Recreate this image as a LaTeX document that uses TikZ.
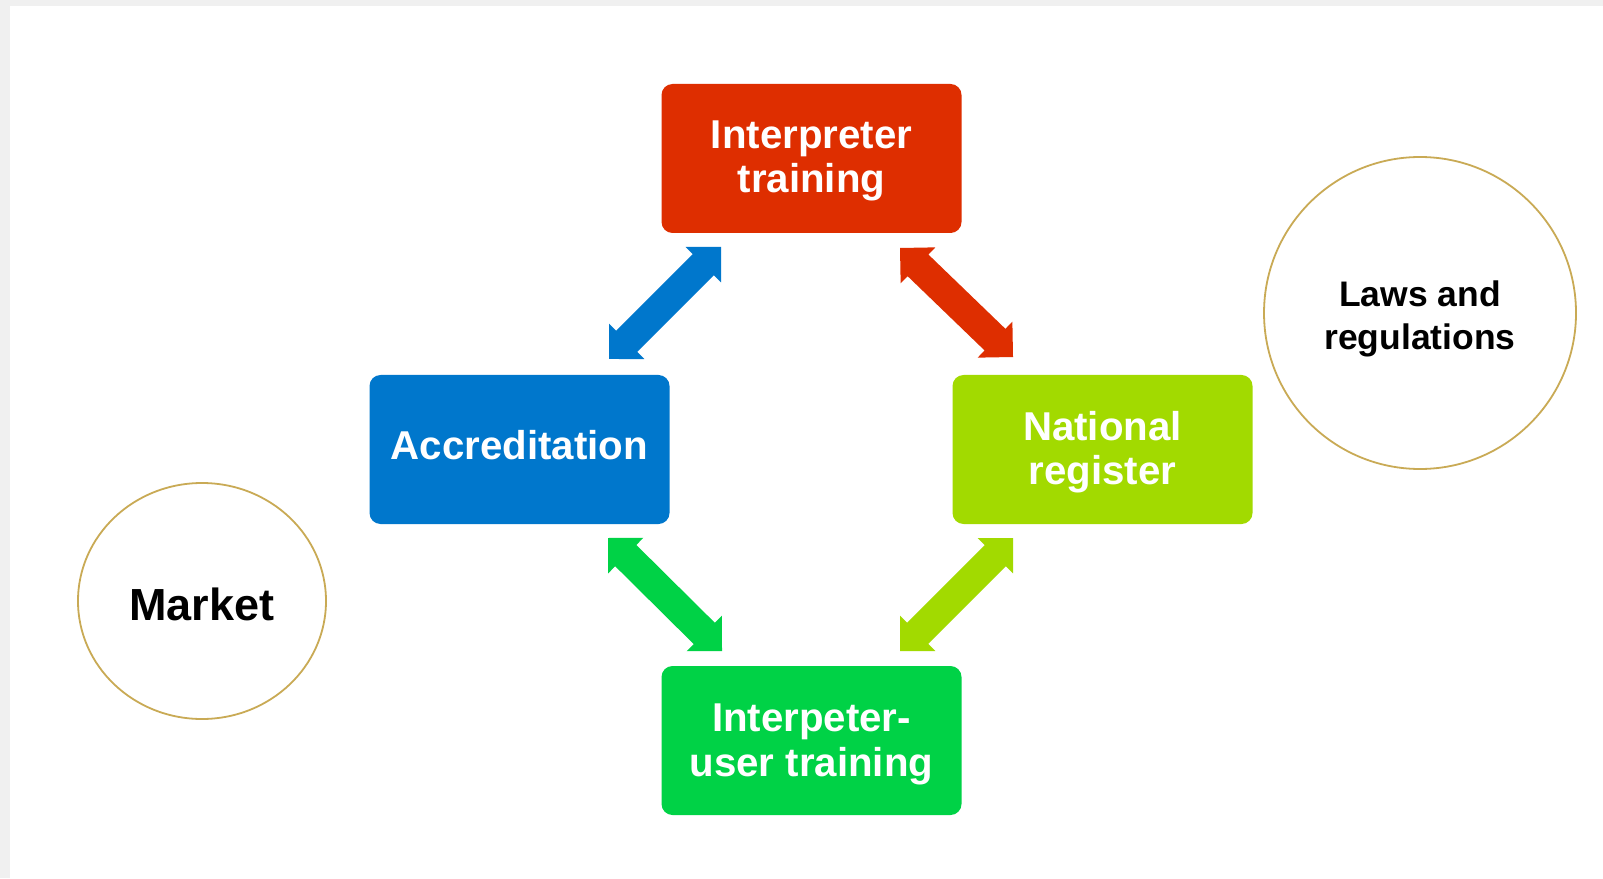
\documentclass[tikz,border=0pt]{standalone}
\usepackage{fontspec}
\setmainfont{Liberation Sans}
\usetikzlibrary{calc,shapes.geometric}
\definecolor{bgGray}{HTML}{F0F0F0}
\definecolor{boxRed}{HTML}{DE2E00}
\definecolor{boxBlue}{HTML}{0077CC}
\definecolor{boxLime}{HTML}{A2DA00}
\definecolor{boxGreen}{HTML}{00D246}
\definecolor{ringGold}{HTML}{C9AA55}
\newcommand\dblarr[3]{%
  \fill[#3] (#1)
    -- ($(#1)!0.25cm!(#2)!0.25cm!90:(#2)$)
    -- ($(#1)!0.25cm!(#2)!0.15cm!90:(#2)$)
    -- ($(#2)!0.25cm!(#1)!0.15cm!-90:(#1)$)
    -- ($(#2)!0.25cm!(#1)!0.25cm!-90:(#1)$)
    -- (#2)
    -- ($(#2)!0.25cm!(#1)!0.25cm!90:(#1)$)
    -- ($(#2)!0.25cm!(#1)!0.15cm!90:(#1)$)
    -- ($(#1)!0.25cm!(#2)!0.15cm!-90:(#2)$)
    -- ($(#1)!0.25cm!(#2)!0.25cm!-90:(#2)$)
    -- cycle;}
\tikzset{
  stagebox/.style={rectangle, rounded corners=0.11cm, minimum width=3.00cm,
    minimum height=1.49cm, inner sep=0pt},
  boxtext/.style={inner sep=0pt, text=white, align=center,
    font=\fontsize{11.45pt}{12.6pt}\selectfont\bfseries},
  ring/.style={draw=ringGold, line width=0.018cm, fill=white, inner sep=0pt},
  ringtext/.style={inner sep=0pt, align=center, text=black}
}
\begin{document}
\begin{tikzpicture}
\useasboundingbox (0,0) rectangle (16.03,-8.78);
\fill[bgGray] (0,0) rectangle (16.03,-8.78);
\fill[white] (0.10,-0.06) rectangle (16.03,-8.78);

\node[stagebox, fill=boxRed] (it) at (8.115,-1.585) {};
\node[stagebox, fill=boxBlue] (acc) at (5.195,-4.495) {};
\node[stagebox, fill=boxLime] (nr) at (11.025,-4.495) {};
\node[stagebox, fill=boxGreen] (iu) at (8.115,-7.405) {};

\node[boxtext] (itT) at ([yshift=-0.025cm]it.center) {Interpreter\\training};
\node[boxtext] (accT) at ([yshift=0.04cm]acc.center) {Accreditation};
\node[boxtext] (nrT) at ([yshift=-0.025cm]nr.center) {National\\register};
\node[boxtext] (iuT) at ([yshift=-0.04cm]iu.center) {Interpeter-\\user training};

\node[ring, ellipse, minimum width=2.48cm, minimum height=2.36cm] (market) at (2.02,-6.01) {};
\node[ring, circle, minimum size=3.12cm] (laws) at (14.20,-3.13) {};
\node[ringtext, font=\fontsize{12.8pt}{14pt}\selectfont\bfseries]
  (marketT) at ([yshift=-0.03cm]market.center) {Market};
\node[ringtext, font=\fontsize{10.1pt}{12.2pt}\selectfont\bfseries]
  (lawsT) at ([yshift=-0.055cm]laws.center) {Laws and\\regulations};

\coordinate (b1) at (6.09,-3.59);
\coordinate (b2) at (7.21,-2.47);
\coordinate (r1) at (9.00,-2.48);
\coordinate (r2) at (10.13,-3.57);
\coordinate (g1) at (6.08,-5.38);
\coordinate (g2) at (7.22,-6.51);
\coordinate (l1) at (10.13,-5.38);
\coordinate (l2) at (9.00,-6.51);

\dblarr{b1}{b2}{boxBlue}
\dblarr{r1}{r2}{boxRed}
\dblarr{g1}{g2}{boxGreen}
\dblarr{l1}{l2}{boxLime}
\end{tikzpicture}
\end{document}
